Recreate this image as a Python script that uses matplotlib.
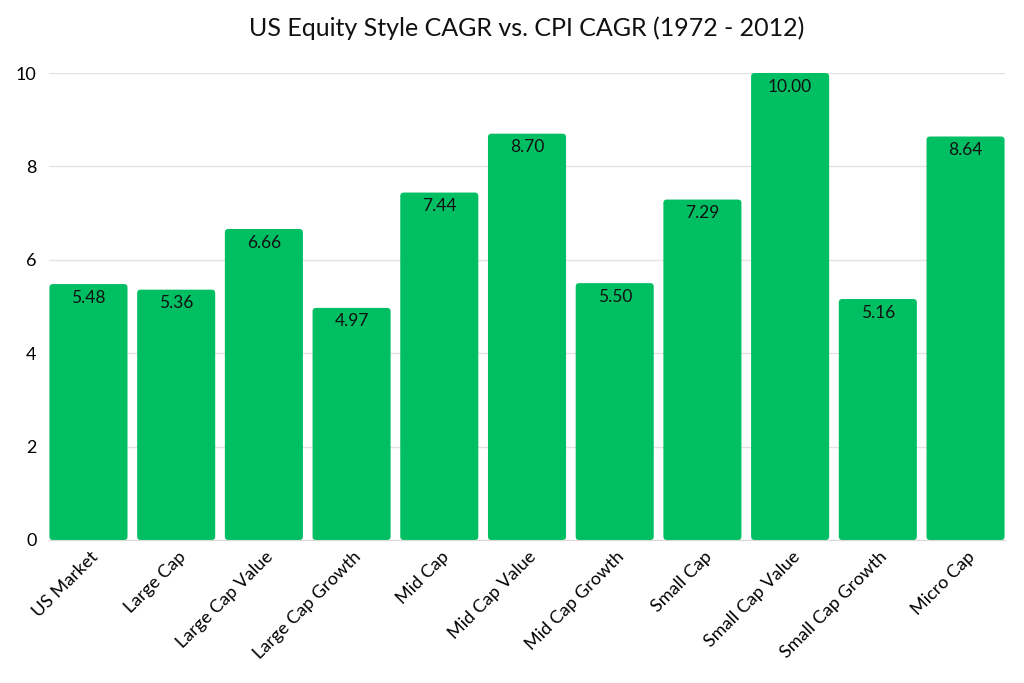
import numpy as np
import matplotlib.pyplot as plt
from matplotlib.patches import FancyBboxPatch

categories = ['US Market', 'Large Cap', 'Large Cap Value', 'Large Cap Growth', 'Mid Cap',
              'Mid Cap Value', 'Mid Cap Growth', 'Small Cap', 'Small Cap Value',
              'Small Cap Growth', 'Micro Cap']
cagr = [5.48, 5.36, 6.66, 4.97, 7.44, 8.70, 5.50, 7.29, 10.00, 5.16, 8.64]
yticks = [0, 2, 4, 6, 8, 10]

plt.rcParams['font.family'] = ['Lato', 'DejaVu Sans']
green = '#00BF63'

fig = plt.figure(figsize=(10.24, 6.83), dpi=100)
ax = fig.add_axes([49 / 1024, 1 - 540 / 683, 956 / 1024, 467 / 683])

x = np.arange(len(categories))
bars = ax.bar(x, cagr, width=0.89, color=green, zorder=2)

# swap plain bars for ones with slightly rounded corners
for b in bars:
    b.set_visible(False)
    ax.add_patch(FancyBboxPatch((b.get_x(), b.get_y()), b.get_width(), b.get_height(),
                                boxstyle='round,pad=0,rounding_size=0.04',
                                mutation_aspect=1.88, facecolor=green,
                                edgecolor='none', zorder=2))

for i, v in enumerate(cagr):
    ax.annotate(f'{v:.2f}', (i, v), xytext=(0, -4), textcoords='offset points',
                ha='center', va='top', fontsize=12.5, color='#111111', zorder=3)

ax.set_xlim(-0.45, len(categories) - 0.55)
ax.set_ylim(0, 10)
ax.set_yticks(yticks)
# labels sit a little right of the bar centre, as in the original
ax.set_xticks(x + 0.08)
ax.set_xticklabels(categories, rotation=45, ha='right', va='center',
                   rotation_mode='anchor', fontsize=13)
ax.tick_params(axis='y', labelsize=13, length=0, pad=9)
ax.tick_params(axis='x', length=0, pad=10)
ax.grid(axis='y', color='#e3e3e3', linewidth=1, zorder=0)
for s in ['top', 'right', 'left']:
    ax.spines[s].set_visible(False)
ax.spines['bottom'].set_color('#d9d9d9')
ax.spines['bottom'].set_zorder(3)

fig.text(527 / 1024, 1 - 28 / 683, 'US Equity Style CAGR vs. CPI CAGR (1972 - 2012)',
         fontsize=18, ha='center', va='center', color='#111111')

fig.savefig('out.png', dpi=100)
